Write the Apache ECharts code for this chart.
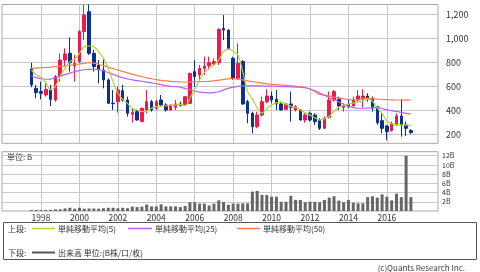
<!DOCTYPE html>
<html><head><meta charset="utf-8">
<script src="https://cdn.jsdelivr.net/npm/echarts@6/dist/echarts.min.js"></script>
<style>html,body{margin:0;padding:0;background:#fff}#c{width:480px;height:272px}</style>
</head><body><div id="c"></div>
<script>
const quarters = ['1997/07','1997/10',
 '1998/01','1998/04','1998/07','1998/10','1999/01','1999/04','1999/07','1999/10',
 '2000/01','2000/04','2000/07','2000/10','2001/01','2001/04','2001/07','2001/10',
 '2002/01','2002/04','2002/07','2002/10','2003/01','2003/04','2003/07','2003/10',
 '2004/01','2004/04','2004/07','2004/10','2005/01','2005/04','2005/07','2005/10',
 '2006/01','2006/04','2006/07','2006/10','2007/01','2007/04','2007/07','2007/10',
 '2008/01','2008/04','2008/07','2008/10','2009/01','2009/04','2009/07','2009/10',
 '2010/01','2010/04','2010/07','2010/10','2011/01','2011/04','2011/07','2011/10',
 '2012/01','2012/04','2012/07','2012/10','2013/01','2013/04','2013/07','2013/10',
 '2014/01','2014/04','2014/07','2014/10','2015/01','2015/04','2015/07','2015/10',
 '2016/01','2016/04','2016/07','2016/10','2017/01','2017/04'];
const opens = [744,583,556,528,569,486,686,819,875,770,
 806,1056,1222,875,778,736,653,460,472,564,
 486,367,389,306,403,472,417,486,444,403,
 425,453,444,458,722,694,750,772,786,797,
 1083,1069,833,667,806,472,375,264,361,472,
 519,492,453,408,453,403,403,319,375,361,
 319,250,342,486,492,425,450,436,486,492,
 519,500,431,314,269,231,278,353,278,231];
const closes = [611,547,542,575,492,681,819,869,797,790,
 1056,1194,875,764,736,653,458,455,569,486,
 375,381,319,417,472,403,472,444,403,444,
 453,442,514,708,681,750,769,797,806,1075,
 1069,917,667,792,453,375,264,361,472,519,
 486,453,403,453,425,431,319,361,319,306,
 250,333,486,556,436,436,431,486,519,519,
 497,417,297,250,222,292,353,278,250,214];
const lows = [592,500,492,514,436,472,639,764,722,640,
 792,986,861,722,625,583,453,403,381,472,
 347,297,314,306,375,389,403,431,389,395,
 403,431,436,453,597,653,694,736,778,778,
 986,903,653,653,445,292,208,250,347,458,
 458,403,397,403,306,389,314,297,306,278,
 236,250,333,472,403,389,417,431,472,425,
 472,389,278,208,153,222,269,181,186,203];
const highs = [797,611,639,625,611,694,875,917,1008,861,
 1069,1278,1282,903,819,833,667,569,597,611,
 514,417,403,422,569,486,486,528,458,450,
 486,472,514,714,819,778,847,847,833,1083,
 1194,1075,847,958,819,486,389,389,514,575,
 556,569,472,458,556,444,408,375,389,375,
 333,347,556,569,514,458,486,514,569,575,
 542,514,436,375,278,306,375,492,306,242];
const ma5 = [736,694,675,631,570,600,686,750,806,825,
 875,931,936,931,889,833,750,639,542,492,
 458,417,403,389,394,417,431,436,436,442,
 444,447,440,500,575,653,714,750,778,819,
 889,908,897,861,722,556,495,420,375,415,
 445,462,468,452,435,425,400,380,360,338,
 318,330,350,392,425,442,452,462,468,482,
 493,475,420,375,310,288,280,278,277,275];
const ma25 = [686,672,664,659,660,670,685,698,710,722,
 731,738,742,742,740,730,715,700,685,672,
 662,653,647,642,635,628,622,614,606,600,
 597,592,582,572,562,552,548,545,547,555,
 570,583,592,600,603,604,604,603,603,602,
 601,600,598,597,596,594,592,588,578,565,
 545,525,505,490,470,450,435,422,417,417,
 418,422,424,415,404,398,391,383,375,369];
const ma50 = [750,752,755,757,760,763,766,770,775,780,
 786,792,797,794,784,772,760,748,737,725,
 712,700,690,680,671,663,656,650,646,642,
 639,636,636,637,638,639,640,641,645,651,
 658,662,664,660,653,645,639,633,627,620,
 616,614,611,608,604,600,597,590,578,555,
 533,528,520,510,503,495,490,487,490,496,
 500,496,492,490,489,487,486,486,485,484];
const volumes = [0.2,0.2,0.2,0.2,0.25,0.35,0.35,0.55,0.7,0.5,
 0.7,0.5,0.55,0.55,0.5,0.6,0.7,0.7,0.6,0.7,
 0.6,0.95,0.85,0.95,1.4,1.0,1.0,1.45,1.0,1.0,
 1.0,0.85,1.1,1.9,1.9,1.6,1.6,1.2,1.6,2.3,
 1.95,1.35,1.6,1.6,1.66,1.66,4.2,4.34,3.47,3.47,
 3.1,3.1,2.0,2.0,3.3,2.4,2.4,1.9,2.0,2.0,
 1.9,2.4,2.9,3.2,2.25,1.9,2.4,1.8,1.66,1.66,
 3.0,3.2,2.9,3.6,3.1,2.3,3.76,3.0,12.0,3.0];
const yearTicks = [1998,2000,2002,2004,2006,2008,2010,2012,2014,2016];
const priceTicks = [200,400,600,800,1000,1200];
const volumeTicks = [2,4,6,8,10,12];
const legendTop = ['単純移動平均(5)','単純移動平均(25)','単純移動平均(50)'];
const legendBottom = '出来高 単位:(B株/口/枚)';

const C_UP = '#f0174b', C_DOWN = '#0c2f90';
const C_MA5 = '#b4d435', C_MA25 = '#b862f0', C_MA50 = '#ff7c52';
const FONT = "'Noto Sans CJK JP', sans-serif";

function qx(s){ const p = s.split('/').map(Number); return p[0] + (p[1]-1)/12; }
const xs = quarters.map(qx);
const candleData = xs.map((x,i)=>[x, opens[i], closes[i], lows[i], highs[i]]);
const pair = arr => xs.map((x,i)=>[x, arr[i]]);

const chart = echarts.init(document.getElementById('c'), null, {renderer:'canvas'});
const gridLine = {show:true, lineStyle:{color:'#c8c8c8', width:1}};
const xBase = {type:'value', min:1995.97, max:2018.66,
  axisLine:{show:false}, axisTick:{show:false, customValues: yearTicks}, splitLine: gridLine};
chart.setOption({
  animation:false,
  backgroundColor:'#fff',
  textStyle:{fontFamily:FONT},
  grid:[
    {left:2, right:42, top:4.5, height:138.8, show:true, borderColor:'#a8a8a8', borderWidth:1},
    {left:2, right:42, top:151.7, height:59.3, show:true, borderColor:'#a8a8a8', borderWidth:1}
  ],
  xAxis:[
    Object.assign({}, xBase, {gridIndex:0, axisLabel:{show:false}}),
    Object.assign({}, xBase, {gridIndex:1, axisLabel:{show:true, customValues: yearTicks,
      formatter: v=>String(v), color:'#333', fontSize:8.5, margin:3, fontFamily:FONT}})
  ],
  yAxis:[
    {type:'value', gridIndex:0, position:'right', min:125, max:1282,
     axisLine:{show:false}, axisTick:{show:false, customValues: priceTicks}, splitLine: gridLine,
     axisLabel:{customValues: priceTicks, formatter: v=>String(v).replace(/\B(?=(\d{3})+(?!\d))/g, ','),
       color:'#333', fontSize:9, margin:8, align:'left', fontFamily:FONT}},
    {type:'value', gridIndex:1, position:'right', min:0, max:12.86,
     axisLine:{show:false}, axisTick:{show:false, customValues: volumeTicks}, splitLine: gridLine,
     axisLabel:{customValues: volumeTicks, formatter: v=>v+'B',
       color:'#333', fontSize:7, margin:4, align:'left', fontFamily:FONT}}
  ],
  series:[
    {type:'candlestick', xAxisIndex:0, yAxisIndex:0, data:candleData, barWidth:3,
     itemStyle:{color:C_UP, color0:C_DOWN, borderColor:C_UP, borderColor0:C_DOWN, borderWidth:1}},
    {type:'line', xAxisIndex:0, yAxisIndex:0, data:pair(ma50), showSymbol:false, smooth:0.3,
     lineStyle:{color:C_MA50, width:1.2}},
    {type:'line', xAxisIndex:0, yAxisIndex:0, data:pair(ma25), showSymbol:false, smooth:0.3,
     lineStyle:{color:C_MA25, width:1.2}},
    {type:'line', xAxisIndex:0, yAxisIndex:0, data:pair(ma5), showSymbol:false, smooth:0.3,
     lineStyle:{color:C_MA5, width:1.2}},
    {type:'bar', xAxisIndex:1, yAxisIndex:1, data:pair(volumes), barWidth:3,
     itemStyle:{color:'#666666'}}
  ],
  graphic:[
    {type:'text', left:7, top:152.5, style:{text:'単位: B', fontSize:8, fill:'#333', fontFamily:FONT}},
    {type:'rect', shape:{x:3.5, y:222.5, width:473, height:37}, style:{fill:'none', stroke:'#555', lineWidth:1}},
    {type:'text', x:8, y:228.5, style:{text:'上段:', fontSize:8, fill:'#333', verticalAlign:'middle', fontFamily:FONT}},
    {type:'line', shape:{x1:32, y1:228.5, x2:55, y2:228.5}, style:{stroke:C_MA5, lineWidth:1.5}},
    {type:'text', x:58, y:228.5, style:{text:legendTop[0], fontSize:8, fill:'#333', verticalAlign:'middle', fontFamily:FONT}},
    {type:'line', shape:{x1:128, y1:228.5, x2:152, y2:228.5}, style:{stroke:C_MA25, lineWidth:1.5}},
    {type:'text', x:155, y:228.5, style:{text:legendTop[1], fontSize:8, fill:'#333', verticalAlign:'middle', fontFamily:FONT}},
    {type:'line', shape:{x1:237, y1:228.5, x2:260, y2:228.5}, style:{stroke:C_MA50, lineWidth:1.5}},
    {type:'text', x:263, y:228.5, style:{text:legendTop[2], fontSize:8, fill:'#333', verticalAlign:'middle', fontFamily:FONT}},
    {type:'text', x:8, y:252.5, style:{text:'下段:', fontSize:8, fill:'#333', verticalAlign:'middle', fontFamily:FONT}},
    {type:'line', shape:{x1:32, y1:252.5, x2:55, y2:252.5}, style:{stroke:'#555', lineWidth:2}},
    {type:'text', x:58, y:252.5, style:{text:legendBottom, fontSize:8, fill:'#333', verticalAlign:'middle', fontFamily:FONT}},
    {type:'text', x:465, y:268, style:{text:'(c)Quants Research Inc.', fontSize:8, fill:'#444', align:'right', verticalAlign:'middle', fontFamily:FONT}}
  ]
});
</script></body></html>
